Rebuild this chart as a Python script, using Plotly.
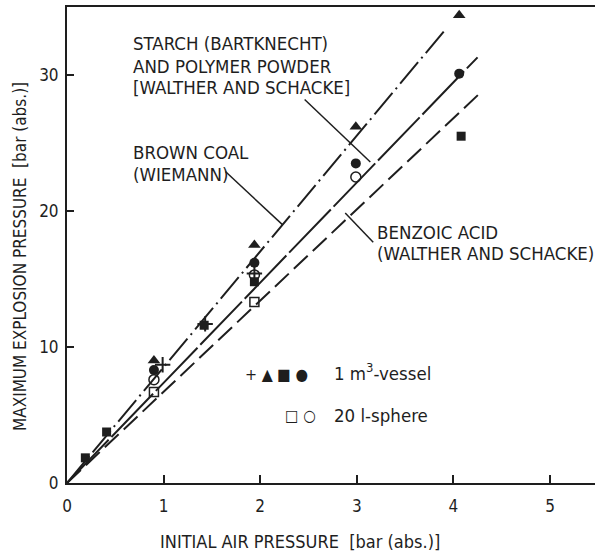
import plotly.graph_objects as go

# ---- data ----
cross_x = [0.99, 1.43, 1.94]
cross_y = [8.7, 11.7, 15.4]
tri_x = [0.90, 1.94, 2.99, 4.06]
tri_y = [9.0, 17.5, 26.2, 34.4]
sq_x = [0.19, 0.41, 1.42, 1.94, 4.08]
sq_y = [1.85, 3.75, 11.6, 14.8, 25.5]
circ_x = [0.90, 1.94, 2.99, 4.06]
circ_y = [8.3, 16.2, 23.5, 30.1]
osq_x = [0.90, 1.94]
osq_y = [6.7, 13.3]
ocirc_x = [0.90, 1.94, 2.99]
ocirc_y = [7.6, 15.3, 22.5]

# fitted lines (through origin)
upper_x = [0, 3.90]
upper_y = [0, 33.2]
middle_x = [0, 4.25]
middle_y = [0, 31.3]
lower_x = [0, 4.28]
lower_y = [0, 28.7]

# leader lines
lead_starch_x = [2.46, 3.14]
lead_starch_y = [28.2, 23.6]
lead_coal_x = [1.64, 2.23]
lead_coal_y = [22.9, 19.0]
lead_benz_x = [3.17, 2.88]
lead_benz_y = [17.7, 19.85]

x_ticks = [0, 1, 2, 3, 4, 5]
y_ticks = [0, 10, 20, 30]

INK = "#1e1e1e"
FONT = "DejaVu Sans Condensed, Liberation Sans Narrow, DejaVu Sans, sans-serif"

fig = go.Figure()

def line(x, y, dash, w=2.0):
    fig.add_trace(go.Scatter(x=x, y=y, mode="lines",
                             line=dict(color=INK, width=w, dash=dash),
                             showlegend=False, hoverinfo="skip"))

line(upper_x, upper_y, "28px,5px,2px,5px")
line(middle_x, middle_y, "60px,4px")
line(lower_x, lower_y, "19px,7px")
line(lead_starch_x, lead_starch_y, "solid", 1.5)
line(lead_coal_x, lead_coal_y, "solid", 1.5)
line(lead_benz_x, lead_benz_y, "solid", 1.5)

def pts(x, y, symbol, size, lw=1.5):
    fig.add_trace(go.Scatter(x=x, y=y, mode="markers",
                             marker=dict(symbol=symbol, size=size, color=INK,
                                         line=dict(color=INK, width=lw)),
                             showlegend=False))

pts(cross_x, cross_y, "cross-thin", 11, 2)
pts(tri_x, tri_y, "triangle-up", 11, 0)
pts(sq_x, sq_y, "square", 9, 0)
pts(circ_x, circ_y, "circle", 10, 0)
pts(osq_x, osq_y, "square-open", 9, 1.5)
pts(ocirc_x, ocirc_y, "circle-open", 10, 1.5)

tf = dict(family=FONT, size=17, color=INK)

def txt(x, y, s, xanchor="left", size=18.5):
    fig.add_annotation(x=x, y=y, xref="paper", yref="paper", text=s,
                       showarrow=False, xanchor=xanchor, yanchor="middle",
                       align="left", font=dict(family=FONT, size=size, color=INK))

W, H = 595, 554
def px(xp): return (xp - 67) / (595 - 67)
def py(yp): return (483 - yp) / (483 - 7)

txt(px(131), py(44), "STARCH (BARTKNECHT)")
txt(px(131), py(66), "AND POLYMER POWDER")
txt(px(131), py(88), "[WALTHER AND SCHACKE]")
txt(px(131), py(152), "BROWN COAL")
txt(px(131), py(175), "(WIEMANN)")
txt(px(375), py(232), "BENZOIC ACID")
txt(px(375), py(254), "(WALTHER AND SCHACKE)")
txt(px(243), py(374), "+ ▲ ■ ●", size=16)
txt(px(332), py(372), "1 m<sup>3</sup>-vessel")
txt(px(283), py(415), "□ ○", size=16)
txt(px(332), py(415), "20 l-sphere")

fig.add_annotation(x=px(20), y=py(257), xref="paper", yref="paper",
                   text="MAXIMUM EXPLOSION PRESSURE  [bar (abs.)]", textangle=-90,
                   showarrow=False, xanchor="center", yanchor="middle",
                   font=dict(family=FONT, size=17, color=INK))
fig.add_annotation(x=px(300), y=py(541), xref="paper", yref="paper",
                   text="INITIAL AIR PRESSURE  [bar (abs.)]",
                   showarrow=False, xanchor="center", yanchor="middle",
                   font=dict(family=FONT, size=18, color=INK))

fig.update_layout(
    width=W, height=H,
    margin=dict(l=67, r=0, t=7, b=71),
    paper_bgcolor="white", plot_bgcolor="white",
    showlegend=False,
    xaxis=dict(range=[0, 528 / 96.6], tickvals=x_ticks, ticks="inside", ticklen=8,
               tickwidth=1.5, tickcolor=INK, showgrid=False, zeroline=False,
               showline=True, linecolor=INK, linewidth=2, mirror=True,
               tickfont=tf, ticklabelstandoff=7),
    yaxis=dict(range=[0, 476 / 13.6], tickvals=y_ticks, ticks="inside", ticklen=7,
               tickwidth=1.5, tickcolor=INK, showgrid=False, zeroline=False,
               showline=True, linecolor=INK, linewidth=2,
               tickfont=tf, ticklabelstandoff=3),
)

fig.write_html("out.html")
